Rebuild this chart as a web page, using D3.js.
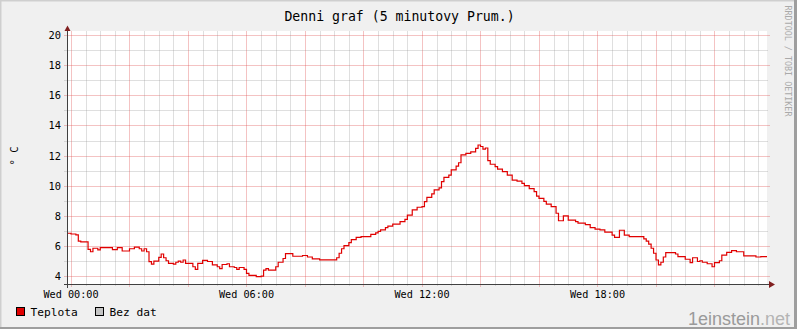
<!DOCTYPE html>
<html>
<head>
<meta charset="utf-8">
<script src="https://cdn.jsdelivr.net/npm/d3@7"></script>
<style>
  html, body { margin:0; padding:0; background:#f0f0f0; }
  svg { display:block; }
  text { font-family:"DejaVu Sans Mono", monospace; }
</style>
</head>
<body>
<div id="chart"></div>
<script>
// Denni graf - teplota, 5 min prumery (rrdtool look)

// minutes from Wed 00:00 where the value changes (step after)
const minutes = [
  -10, 0, 10, 15, 20, 35, 40, 45, 55, 60, 85, 95, 105, 120, 130, 140, 145, 150, 155,
  160, 165, 170, 180, 185, 190, 195, 200, 210, 215, 220, 225, 230, 235, 250, 255, 260,
  270, 280, 290, 300, 305, 310, 320, 325, 335, 340, 345, 355, 360, 365, 380, 390, 395,
  400, 405, 420, 425, 435, 440, 455, 475, 485, 495, 510, 545, 550, 555, 560, 570, 575,
  585, 595, 615, 625, 630, 635, 645, 650, 660, 675, 685, 690, 700, 710, 720, 725, 730,
  740, 745, 755, 760, 765, 775, 780, 790, 795, 800, 810, 820, 830, 835, 840, 845, 850,
  855, 860, 870, 875, 885, 895, 905, 915, 925, 930, 940, 950, 955, 960, 970, 975, 985,
  995, 1000, 1010, 1020, 1035, 1040, 1055, 1065, 1075, 1085, 1095, 1110, 1115, 1125,
  1135, 1145, 1175, 1180, 1185, 1190, 1195, 1200, 1205, 1210, 1215, 1220, 1240, 1245,
  1260, 1270, 1275, 1285, 1290, 1295, 1305, 1315, 1320, 1330, 1335, 1345, 1355, 1365,
  1380, 1405, 1415, 1430
];
const teplota = [
  6.83, 6.78, 6.72, 6.31, 6.25, 5.76, 5.6, 5.83, 5.72, 5.87, 5.74, 5.87, 5.65, 5.8, 5.9, 5.8, 5.65, 5.8, 5.6,
  4.94, 4.78, 4.98, 5.22, 5.45, 5.2, 5.0, 4.83, 4.77, 4.9, 4.97, 4.9, 5.05, 4.83, 4.6, 4.43, 4.83,
  5.03, 4.95, 4.73, 4.6, 4.47, 4.75, 4.8, 4.6, 4.55, 4.43, 4.55, 4.43, 4.16, 4.03, 3.94, 3.98, 4.38,
  4.47, 4.38, 4.6, 4.9, 5.15, 5.47, 5.3, 5.35, 5.25, 5.12, 5.06, 5.2, 5.5, 5.8, 6.0, 6.2, 6.4,
  6.55, 6.6, 6.75, 6.85, 6.95, 7.05, 7.2, 7.3, 7.44, 7.6, 7.75, 8.04, 8.38, 8.56, 8.6, 8.93, 9.22,
  9.45, 9.71, 9.85, 10.26, 10.55, 10.7, 11.04, 11.3, 11.52, 12.04, 12.15, 12.25, 12.48, 12.7, 12.6, 12.43, 12.5,
  11.66, 11.42, 11.26, 11.1, 10.93, 10.7, 10.37, 10.3, 10.15, 10.0, 9.8, 9.6, 9.3, 9.15, 8.95, 8.77, 8.6,
  8.16, 7.66, 7.98, 7.7, 7.6, 7.5, 7.4, 7.2, 7.1, 7.05, 6.9, 6.71, 6.55, 7.03,
  6.7, 6.6, 6.45, 6.3, 6.11, 5.83, 5.5, 5.05, 4.72, 4.9, 5.25, 5.54, 5.45, 5.27,
  5.1, 4.87, 5.2, 4.95, 5.0, 4.9, 4.8, 4.6, 4.87, 5.0, 5.38, 5.56, 5.67, 5.6,
  5.32, 5.25, 5.28, 5.28
];

const xLabels = ["Wed 00:00", "Wed 06:00", "Wed 12:00", "Wed 18:00"];
const xLabelMinutes = [0, 360, 720, 1080];
const yLabels = [4, 6, 8, 10, 12, 14, 16, 18, 20];
const legendItems = ["Teplota", "Bez dat"];

const W = 797, H = 329;
const plotL = 67, plotR = 767, plotT = 31, plotB = 284;

const x = d3.scaleLinear().domain([-8.2, 1427.7]).range([plotL, plotR]);
const y = d3.scaleLinear().domain([3.453, 20]).range([plotB, 35.3]);

const svg = d3.select("#chart").append("svg")
  .attr("width", W).attr("height", H);

// background + frame
svg.append("rect").attr("width", W).attr("height", H).attr("fill", "#f0f0f0");
svg.append("rect").attr("x", plotL).attr("y", plotT).attr("width", plotR - plotL).attr("height", plotB - plotT).attr("fill", "#fff");
svg.append("line").attr("x1", 0).attr("x2", W).attr("y1", 0.5).attr("y2", 0.5).attr("stroke", "#cfcfcf").attr("stroke-width", 2);
svg.append("line").attr("x1", 0.5).attr("x2", 0.5).attr("y1", 0).attr("y2", H).attr("stroke", "#cfcfcf").attr("stroke-width", 2);
svg.append("line").attr("x1", 0).attr("x2", W).attr("y1", H - 1).attr("y2", H - 1).attr("stroke", "#9e9e9e").attr("stroke-width", 2);
svg.append("line").attr("x1", W - 1.5).attr("x2", W - 1.5).attr("y1", 0).attr("y2", H).attr("stroke", "#9e9e9e").attr("stroke-width", 3);

const minorCol = "rgba(140,140,140,0.28)";
const majorCol = "rgba(222,80,80,0.34)";
const crisp = v => Math.round(v) + 0.5;

// horizontal grid
const g = svg.append("g").attr("shape-rendering", "crispEdges");
d3.range(4, 21).forEach(v => {
  const major = v % 2 === 0;
  g.append("line")
    .attr("x1", 64).attr("x2", major ? 770 : 768)
    .attr("y1", crisp(y(v))).attr("y2", crisp(y(v)))
    .attr("stroke", major ? majorCol : minorCol);
});
// vertical grid: 30 min minor, 2 h major
d3.range(0, 1440, 30).forEach(m => {
  const major = m % 120 === 0;
  const xx = crisp(x(m));
  if (xx > plotR + 1) return;
  g.append("line")
    .attr("x1", xx).attr("x2", xx)
    .attr("y1", 31).attr("y2", major ? 287 : 286)
    .attr("stroke", major ? majorCol : minorCol);
});

// data line
const pts = minutes.map((m, i) => [m, teplota[i]]);
svg.append("clipPath").attr("id", "clip").append("rect")
  .attr("x", plotL).attr("y", plotT).attr("width", plotR - plotL).attr("height", plotB - plotT);
svg.append("path")
  .datum(pts)
  .attr("clip-path", "url(#clip)")
  .attr("fill", "none")
  .attr("stroke", "#e00000")
  .attr("stroke-width", 1.2)
  .attr("d", d3.line().x(d => x(d[0])).y(d => y(d[1])).curve(d3.curveStepAfter));

// axes
const ax = svg.append("g").attr("shape-rendering", "crispEdges");
ax.append("line").attr("x1", 64).attr("x2", 770).attr("y1", 284.5).attr("y2", 284.5).attr("stroke", "#404040");
ax.append("line").attr("x1", 67.5).attr("x2", 67.5).attr("y1", 30).attr("y2", 288).attr("stroke", "#404040");
svg.append("path").attr("d", "M769,281 L775,284.5 L769,288 Z").attr("fill", "#801f1f");
svg.append("path").attr("d", "M64.5,31 L67.5,25.5 L70.5,31 Z").attr("fill", "#801f1f");

// y tick labels
svg.selectAll(".ylab").data(yLabels).enter().append("text")
  .attr("class", "ylab")
  .attr("x", 61).attr("y", d => y(d) + 4)
  .attr("text-anchor", "end")
  .style("font-size", "10.4px")
  .text(d => d);

// x tick labels
svg.selectAll(".xlab").data(xLabels).enter().append("text")
  .attr("class", "xlab")
  .attr("x", (d, i) => x(xLabelMinutes[i]))
  .attr("y", 298)
  .attr("text-anchor", "middle")
  .style("font-size", "10.2px")
  .text(d => d);

// title
svg.append("text")
  .attr("x", 399.5).attr("y", 20.5)
  .attr("text-anchor", "middle")
  .style("font-size", "13.2px")
  .text("Denni graf (5 minutovy Prum.)");

// unit label
svg.append("text")
  .attr("transform", "translate(17.5,156) rotate(-90)")
  .attr("text-anchor", "middle")
  .style("font-size", "10.6px")
  .text("° C");

// watermark
svg.append("text")
  .attr("transform", "translate(785,61) rotate(90)")
  .attr("text-anchor", "middle")
  .attr("fill", "#aaaaaa")
  .style("font-size", "8.4px")
  .text("RRDTOOL / TOBI OETIKER");

// legend
const legColors = ["#e00000", "#c4c4c4"];
const legX = [16.5, 95.5];
legendItems.forEach((name, i) => {
  svg.append("rect")
    .attr("x", legX[i]).attr("y", 307.5).attr("width", 8).attr("height", 8)
    .attr("fill", legColors[i]).attr("stroke", "#000").attr("stroke-width", 1)
    .attr("shape-rendering", "crispEdges");
  svg.append("text")
    .attr("x", legX[i] + 14).attr("y", 315.5)
    .style("font-size", "11.2px")
    .text(name);
});

// site mark
const site = svg.append("text")
  .attr("x", 790).attr("y", 325)
  .attr("text-anchor", "end")
  .style("font-family", "'Liberation Sans', Arial, sans-serif")
  .style("font-size", "18px");
site.append("tspan").attr("fill", "#9a9a9a").text("1einstein");
site.append("tspan").attr("fill", "#b4b4b4").text(".net");
</script>
</body>
</html>
